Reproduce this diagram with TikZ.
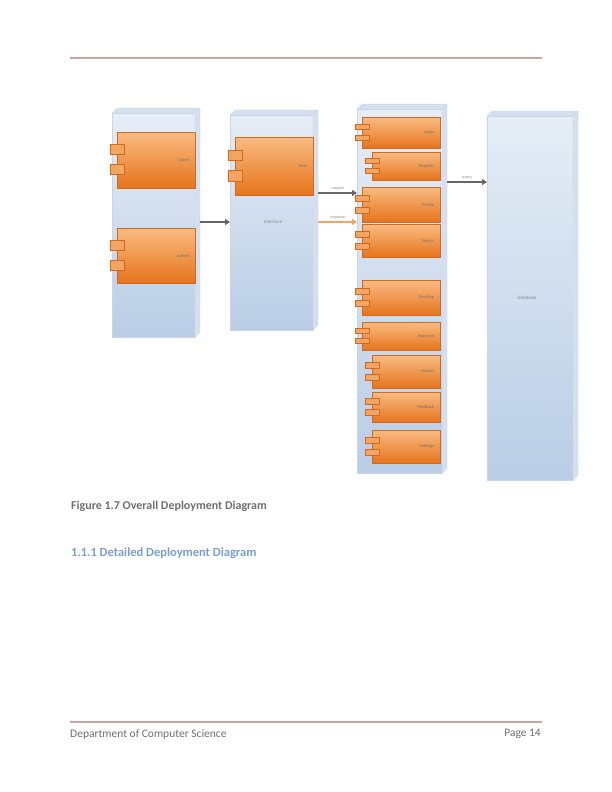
\documentclass[tikz,border=0pt]{standalone}
\usepackage{fontspec}
\setmainfont{Carlito}
\usetikzlibrary{arrows.meta,shadings}
\definecolor{rulec}{HTML}{C9A5A2}
\definecolor{nodetop}{HTML}{E6EDF6}
\definecolor{nodebot}{HTML}{B9CDE5}
\definecolor{nodeside}{HTML}{D5E0EE}
\definecolor{comptop}{HTML}{F9BB82}
\definecolor{compbot}{HTML}{E6741C}
\definecolor{compline}{HTML}{D2691E}
\definecolor{txtgray}{HTML}{8A8A8A}
\definecolor{capgray}{HTML}{707070}
\definecolor{headblue}{HTML}{7B9ED0}
\definecolor{arrorange}{HTML}{F4A460}
\tikzset{
 devbound/.style={draw=none, inner sep=0pt, anchor=north west},
 devfront/.style={top color=nodetop, bottom color=nodebot, draw=nodebot!80!white, line width=0.3pt},
 devside/.style={fill=nodeside, draw=nodebot!80!white, line width=0.3pt},
 compbody/.style={draw=compline, line width=0.3pt, top color=comptop, bottom color=compbot, inner sep=0pt, anchor=north west},
 comptab/.style={draw=compline, line width=0.3pt, fill=comptop!70!compbot},
 clbl/.style={font=\fontsize{4.5}{4.5}\selectfont, text=black!55, anchor=east, inner sep=0pt},
 lbl/.style={font=\fontsize{4}{4}\selectfont, text=txtgray, inner sep=0pt},
 conn/.style={draw=gray!80!black, line width=1.1pt, -{Triangle[length=5pt,width=6pt]}},
 connor/.style={draw=arrorange, line width=1.1pt, -{Triangle[length=5pt,width=6pt]}},
}
% device: name, x1, y1, x2, y2
\newcommand\devbox[5]{%
  \fill[devfront] (#2,{#3+5}) rectangle ({#4-5},#5);
  \filldraw[devside] (#2,{#3+5}) -- ({#2+5},#3) -- (#4,#3) -- ({#4-5},{#3+5}) -- cycle;
  \filldraw[devside] ({#4-5},{#3+5}) -- (#4,#3) -- (#4,{#5-5}) -- ({#4-5},#5) -- cycle;
  \node[devbound, minimum width={(#4-#2)*1pt}, minimum height={(#5-#3)*1pt}] (#1) at (#2,#3) {};
}
% component: name, x, y, w, h, text
\newcommand\compbox[6]{%
  \node[compbody, minimum width=#4pt, minimum height=#5pt] (#1) at (#2,#3) {};
  \filldraw[comptab] ({#2-7},{#3+0.22*#5}) rectangle ({#2+7},{#3+0.40*#5});
  \filldraw[comptab] ({#2-7},{#3+0.58*#5}) rectangle ({#2+7},{#3+0.76*#5});
  \node[clbl] (#1t) at ([xshift=-6pt]#1.east) {#6};
}
\begin{document}
\begin{tikzpicture}[x=1pt,y=-1pt]
\useasboundingbox (0,0) rectangle (612,792);
\fill[white] (0,0) rectangle (612,792);
% header / footer rules
\coordinate (rt1) at (70,58); \coordinate (rt2) at (542,58);
\draw[rulec, line width=2.6pt] (rt1) -- (rt2);
\coordinate (rb1) at (70,722); \coordinate (rb2) at (542,722);
\draw[rulec, line width=2.6pt] (rb1) -- (rb2);
% devices
\devbox{n1}{112}{108}{200}{337}
\devbox{n2}{230}{110}{318}{330}
\devbox{n3}{357}{104}{447}{473}
\devbox{n4}{487}{111}{578}{480}
\node[lbl, font=\fontsize{5}{5}\selectfont] (n2l) at (273,222) {Interface};
\node[lbl, font=\fontsize{5}{5}\selectfont] (n4l) at (527,298) {Database};
% components
\compbox{c1a}{117}{132}{78}{56}{Client}
\compbox{c1b}{117}{228}{78}{55}{Admin}
\compbox{c2a}{235}{137}{78}{58}{Web}
\compbox{c3a}{362}{117}{78}{31}{Login}
\compbox{c3b}{372}{152}{68}{28}{Register}
\compbox{c3c}{362}{187}{78}{35}{Profile}
\compbox{c3d}{362}{224}{78}{33}{Search}
\compbox{c3e}{362}{280}{78}{35}{Booking}
\compbox{c3f}{362}{322}{78}{28}{Payment}
\compbox{c3g}{372}{355}{68}{33}{Report}
\compbox{c3h}{372}{392}{68}{30}{Feedback}
\compbox{c3i}{372}{430}{68}{33}{Settings}
% connectors
\coordinate (ya) at (0,222);
\coordinate (yb) at (0,193);
\coordinate (yc) at (0,222);
\coordinate (yd) at (0,182);
\draw[conn] (n1.east |- ya) -- (n2.west |- ya);
\draw[conn] (n2.east |- yb) -- node[lbl, above=2pt] (lb) {request} (n3.west |- yb);
\draw[connor] (n2.east |- yc) -- node[lbl, above=2pt] (lc) {response} (n3.west |- yc);
\draw[conn] (n3.east |- yd) -- node[lbl, above=2pt] (ld) {query} (n4.west |- yd);
% texts
\node[anchor=west, inner sep=0pt, font=\bfseries\fontsize{12}{13}\selectfont, text=capgray] (cap) at (71,506) {Figure 1.7 Overall Deployment Diagram};
\node[anchor=west, inner sep=0pt, font=\bfseries\fontsize{12.5}{13}\selectfont, text=headblue] (sub) at (71,553) {1.1.1 Detailed Deployment Diagram};
\node[anchor=west, inner sep=0pt, font=\fontsize{11.5}{12}\selectfont, text=capgray] (fl) at (70,734) {Department of Computer Science};
\node[anchor=east, inner sep=0pt, font=\fontsize{11.5}{12}\selectfont, text=capgray] (fr) at (541,734) {Page 14};
\end{tikzpicture}
\end{document}
